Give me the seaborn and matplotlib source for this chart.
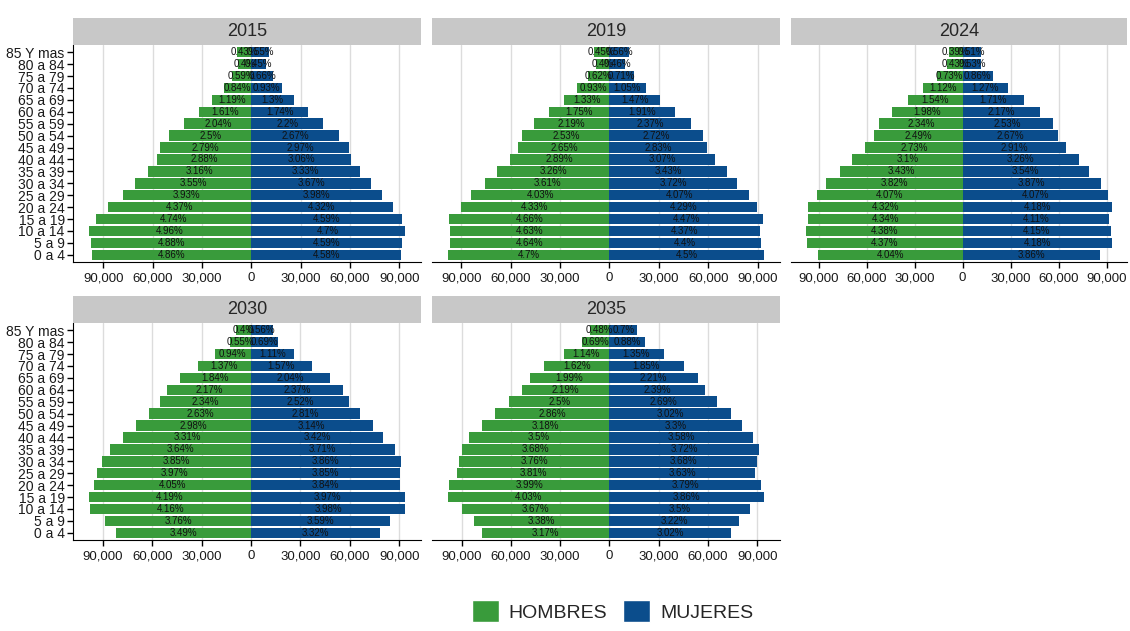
"""
Population pyramids by year (facets), hombres vs mujeres.
"""

import matplotlib.pyplot as plt
import pandas as pd
import seaborn as sns
from matplotlib.patches import Patch
from matplotlib.ticker import FuncFormatter

AGES = ["85 Y mas", "80 a 84", "75 a 79", "70 a 74", "65 a 69", "60 a 64",
        "55 a 59", "50 a 54", "45 a 49", "40 a 44", "35 a 39", "30 a 34",
        "25 a 29", "20 a 24", "15 a 19", "10 a 14", "5 a 9", "0 a 4"]

YEARS = [2015, 2019, 2024, 2030, 2035]

# approximate total population per year
TOTALS = [1990000, 2090000, 2230000, 2350000, 2440000]

# percentage labels, oldest group first
MEN_PCT = {
    2015: [0.43, 0.4, 0.59, 0.84, 1.19, 1.61, 2.04, 2.5, 2.79, 2.88, 3.16,
           3.55, 3.93, 4.37, 4.74, 4.96, 4.88, 4.86],
    2019: [0.45, 0.4, 0.62, 0.93, 1.33, 1.75, 2.19, 2.53, 2.65, 2.89, 3.26,
           3.61, 4.03, 4.33, 4.66, 4.63, 4.64, 4.7],
    2024: [0.39, 0.43, 0.73, 1.12, 1.54, 1.98, 2.34, 2.49, 2.73, 3.1, 3.43,
           3.82, 4.07, 4.32, 4.34, 4.38, 4.37, 4.04],
    2030: [0.4, 0.55, 0.94, 1.37, 1.84, 2.17, 2.34, 2.63, 2.98, 3.31, 3.64,
           3.85, 3.97, 4.05, 4.19, 4.16, 3.76, 3.49],
    2035: [0.48, 0.69, 1.14, 1.62, 1.99, 2.19, 2.5, 2.86, 3.18, 3.5, 3.68,
           3.76, 3.81, 3.99, 4.03, 3.67, 3.38, 3.17],
}
WOMEN_PCT = {
    2015: [0.55, 0.45, 0.66, 0.93, 1.3, 1.74, 2.2, 2.67, 2.97, 3.06, 3.33,
           3.67, 3.98, 4.32, 4.59, 4.7, 4.59, 4.58],
    2019: [0.56, 0.46, 0.71, 1.05, 1.47, 1.91, 2.37, 2.72, 2.83, 3.07, 3.43,
           3.72, 4.07, 4.29, 4.47, 4.37, 4.4, 4.5],
    2024: [0.51, 0.53, 0.86, 1.27, 1.71, 2.17, 2.53, 2.67, 2.91, 3.26, 3.54,
           3.87, 4.07, 4.18, 4.11, 4.15, 4.18, 3.86],
    2030: [0.56, 0.69, 1.11, 1.57, 2.04, 2.37, 2.52, 2.81, 3.14, 3.42, 3.71,
           3.86, 3.85, 3.84, 3.97, 3.98, 3.59, 3.32],
    2035: [0.7, 0.88, 1.35, 1.85, 2.21, 2.39, 2.69, 3.02, 3.3, 3.58, 3.72,
           3.68, 3.63, 3.79, 3.86, 3.5, 3.22, 3.02],
}

GREEN = "#399B3B"
BLUE = "#0B4D8C"
PALETTE = {"HOMBRES": GREEN, "MUJERES": BLUE}

W, H = 1130, 631
# panel boxes in pixels: left, top, right, bottom
PANELS = [(73, 45, 421, 262), (432, 45, 780, 262), (791, 45, 1127, 262),
          (73, 323, 421, 540), (432, 323, 780, 540)]
STRIP_H = 27


def build_frame() -> pd.DataFrame:
    rows = []
    for year, total in zip(YEARS, TOTALS):
        for age, pm, pf in zip(AGES, MEN_PCT[year], WOMEN_PCT[year]):
            rows.append((year, age, "HOMBRES", -pm / 100 * total, pm))
            rows.append((year, age, "MUJERES", pf / 100 * total, pf))
    return pd.DataFrame(rows, columns=["year", "age", "sex", "value", "pct"])


def px_box(l, t, r, b):
    return [l / W, 1 - b / H, (r - l) / W, (b - t) / H]


def main():
    sns.set_style("white")
    plt.rcParams["font.family"] = ["Liberation Sans", "DejaVu Sans"]
    df = build_frame()

    fig = plt.figure(figsize=(W / 100, H / 100), dpi=100)
    fmt = FuncFormatter(lambda v, _: f"{abs(v):,.0f}")

    for i, year in enumerate(YEARS):
        l, t, r, b = PANELS[i]
        ax = fig.add_axes(px_box(l, t, r, b))
        sub = df[df["year"] == year]
        sns.barplot(data=sub, x="value", y="age", hue="sex", order=AGES,
                    palette=PALETTE, dodge=False, width=0.88, legend=False,
                    saturation=1, ax=ax, errorbar=None, linewidth=0)
        for _, row in sub.iterrows():
            ax.text(row["value"] / 2, AGES.index(row["age"]), f"{row['pct']:g}%",
                    ha="center", va="center", fontsize=7, color="#111111")
        lo = sub["value"].min()
        hi = sub["value"].max()
        pad = (hi - lo) * 0.05
        ax.set_xlim(lo - pad, hi + pad)
        ax.set_ylim(len(AGES) - 0.4, -0.6)
        ax.set_xticks([-90000, -60000, -30000, 0, 30000, 60000, 90000])
        ax.xaxis.set_major_formatter(fmt)
        ax.set_axisbelow(True)
        ax.grid(axis="x", color="#DCDCDC", linewidth=1)
        ax.grid(axis="y", visible=False)
        ax.set_xlabel("")
        ax.set_ylabel("")
        for side in ["top", "right"]:
            ax.spines[side].set_visible(False)
        ax.spines["bottom"].set_color("black")
        ax.tick_params(axis="x", length=4, width=1, labelsize=9.5, color="black",
                       bottom=True, labelcolor="#1a1a1a")
        if i in (0, 3):
            ax.spines["left"].set_color("black")
            ax.tick_params(axis="y", length=4, width=1, labelsize=10,
                           color="black", left=True, pad=2, labelcolor="#1a1a1a")
        else:
            ax.spines["left"].set_visible(False)
            ax.tick_params(axis="y", left=False, labelleft=False)

        sax = fig.add_axes(px_box(l, t - STRIP_H, r, t))
        sax.set_facecolor("#C8C8C8")
        sax.set_xticks([])
        sax.set_yticks([])
        for sp in sax.spines.values():
            sp.set_visible(False)
        sax.text(0.5, 0.5, str(year), ha="center", va="center", fontsize=13,
                 transform=sax.transAxes)

    handles = [Patch(facecolor=GREEN, label="HOMBRES"),
               Patch(facecolor=BLUE, label="MUJERES")]
    fig.legend(handles=handles, loc="lower center", bbox_to_anchor=(0.542, -0.014),
               ncol=2, frameon=False, fontsize=14, handlelength=1.4,
               handleheight=1.4, handletextpad=0.5, columnspacing=0.8)

    fig.savefig("out.png", dpi=100, facecolor="white")


if __name__ == "__main__":
    main()
